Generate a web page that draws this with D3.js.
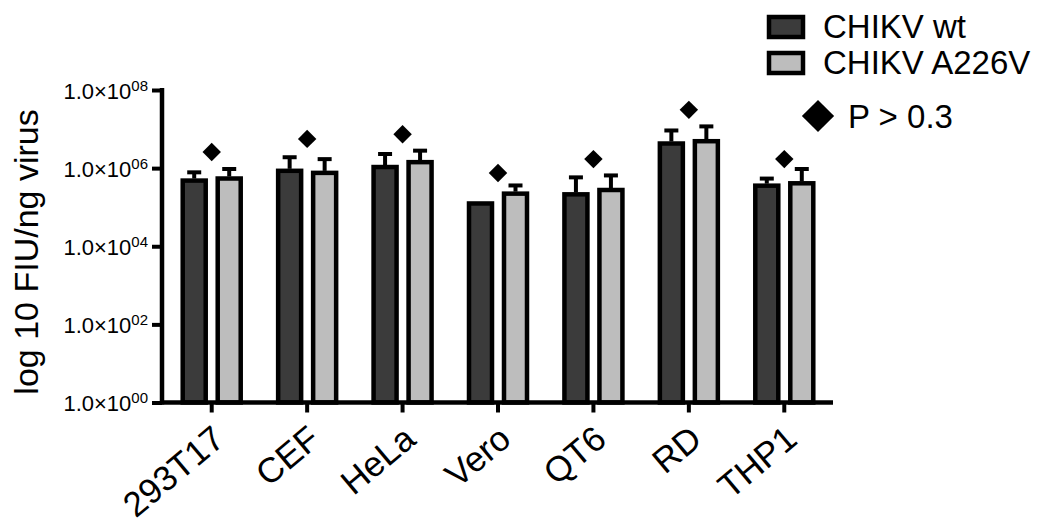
<!DOCTYPE html>
<html>
<head>
<meta charset="utf-8">
<script src="https://cdn.jsdelivr.net/npm/d3@7"></script>
<style>
  html, body { margin: 0; padding: 0; background: #fff; }
  svg { display: block; font-family: "Liberation Sans", Arial, sans-serif; }
</style>
</head>
<body>
<svg id="chart" width="1050" height="528"></svg>
<script>
// ---- data ----
const categories = ["293T17", "CEF", "HeLa", "Vero", "QT6", "RD", "THP1"];
const series = ["CHIKV wt", "CHIKV A226V"];
const wtMean   = [5.4e5, 9.6e5, 1.2e6, 1.4e5, 2.4e5, 4.8e6, 4.0e5];
const wtUpper  = [7.8e5, 1.9e6, 2.3e6, 1.4e5, 5.8e5, 9.2e6, 5.4e5];
const mutMean  = [6.1e5, 8.5e5, 1.6e6, 2.5e5, 3.1e5, 5.5e6, 4.6e5];
const mutUpper = [9.5e5, 1.7e6, 2.8e6, 3.6e5, 6.5e5, 1.17e7, 9.5e5];
const markerY  = [2.6e6, 5.6e6, 7.4e6, 7.5e5, 1.7e6, 3.1e7, 1.7e6];
const yTicks   = [1e0, 1e2, 1e4, 1e6, 1e8];
const yTickLabels = ["00", "02", "04", "06", "08"];
const yTitle = "log 10 FIU/ng virus";
const markerLabel = "P > 0.3";

const fills = ["#3b3b3b", "#bdbdbd"];

const svg = d3.select("#chart");

const y = d3.scaleLog().domain([1, 1e8]).range([402.5, 90]);
const x0 = d3.scaleBand().domain(categories).range([164, 832]);
const x1 = d3.scaleBand().domain(series).range([-29, 29]).paddingInner(12 / 35);

const rows = categories.map((c, i) => ({
  cat: c,
  vals: [
    { s: series[0], v: wtMean[i], up: wtUpper[i] },
    { s: series[1], v: mutMean[i], up: mutUpper[i] }
  ],
  marker: markerY[i]
}));

// bars
const g = svg.append("g");
const groups = g.selectAll("g.grp").data(rows).enter().append("g")
  .attr("transform", d => `translate(${x0(d.cat) + x0.bandwidth() / 2},0)`);

// error bars (upward only)
groups.selectAll("g.err").data(d => d.vals.filter(v => v.up > v.v)).enter().append("g")
  .each(function (d) {
    const cx = x1(d.s) + x1.bandwidth() / 2;
    const gg = d3.select(this);
    gg.append("line").attr("x1", cx).attr("x2", cx)
      .attr("y1", y(d.v)).attr("y2", y(d.up))
      .attr("stroke", "#000").attr("stroke-width", 4);
    gg.append("line").attr("x1", cx - 7).attr("x2", cx + 7)
      .attr("y1", y(d.up)).attr("y2", y(d.up))
      .attr("stroke", "#000").attr("stroke-width", 4);
  });

groups.selectAll("rect").data(d => d.vals).enter().append("rect")
  .attr("x", d => x1(d.s))
  .attr("width", x1.bandwidth())
  .attr("y", d => y(d.v) + 2)
  .attr("height", d => y(1) - y(d.v) - 2)
  .attr("fill", (d, i) => fills[i])
  .attr("stroke", "#000")
  .attr("stroke-width", 4.5);

// markers
const diamond = d3.symbol().type(d3.symbolSquare).size(170);
groups.append("path")
  .attr("d", diamond)
  .attr("transform", d => `translate(0,${y(d.marker)}) rotate(45)`)
  .attr("fill", "#000");

// y axis
const yAxis = d3.axisLeft(y).tickValues(yTicks).tickSize(10).tickFormat("");
const ya = svg.append("g").attr("transform", "translate(162,0)").call(yAxis);
ya.select(".domain").remove();
ya.selectAll(".tick line").attr("stroke", "#000").attr("stroke-width", 4);
ya.append("line").attr("x1", 0).attr("x2", 0).attr("y1", 88).attr("y2", 404.5)
  .attr("stroke", "#000").attr("stroke-width", 4.5);
ya.selectAll(".tick").each(function (d, i) {
  const t = d3.select(this).append("text")
    .attr("x", -14).attr("y", 8)
    .attr("text-anchor", "end")
    .attr("fill", "#000")
    .style("font-size", "22px");
  t.append("tspan").text("1.0×10");
  t.append("tspan").attr("dy", -8).style("font-size", "15px").text(yTickLabels[i]);
});

// x axis
const xAxis = d3.axisBottom(x0).tickSize(10).tickFormat("");
const xa = svg.append("g").attr("transform", "translate(0,402.5)").call(xAxis);
xa.select(".domain").remove();
xa.selectAll(".tick line").attr("stroke", "#000").attr("stroke-width", 4);
xa.append("line").attr("x1", 160).attr("x2", 833).attr("y1", 0).attr("y2", 0)
  .attr("stroke", "#000").attr("stroke-width", 4.5);
xa.selectAll(".tick").append("text")
  .attr("text-anchor", "end")
  .attr("transform", "translate(15,40) rotate(-40)")
  .attr("fill", "#000")
  .style("font-size", "35px")
  .text(d => d);

// y title
svg.append("text")
  .attr("transform", "translate(38,252) rotate(-90)")
  .attr("text-anchor", "middle")
  .style("font-size", "34px")
  .attr("fill", "#000")
  .text(yTitle);

// legend
const lg = svg.append("g");
series.forEach((s, i) => {
  const yy = 17 + i * 36;
  lg.append("rect").attr("x", 769).attr("y", yy).attr("width", 34).attr("height", 20)
    .attr("fill", fills[i]).attr("stroke", "#000").attr("stroke-width", 4.5);
  lg.append("text").attr("x", 823).attr("y", yy + 21).style("font-size", "33px")
    .attr("fill", "#000").text(s);
});
lg.append("path").attr("d", d3.symbol().type(d3.symbolSquare).size(520))
  .attr("transform", "translate(818,116) rotate(45)").attr("fill", "#000");
lg.append("text").attr("x", 848).attr("y", 128).style("font-size", "33px")
  .attr("fill", "#000").text(markerLabel);
</script>
</body>
</html>
